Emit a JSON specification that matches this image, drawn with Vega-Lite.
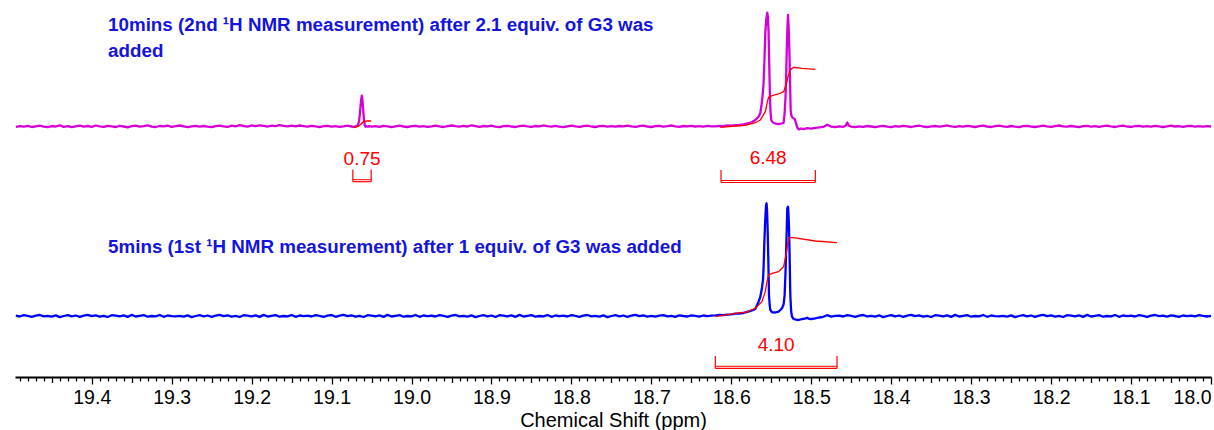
{
"$schema": "https://vega.github.io/schema/vega-lite/v6.json",
"autosize": {"type": "none"},
"width": 1196,
"height": 377,
"padding": {"left": 15, "right": 3, "top": 0, "bottom": 53},
"background": "white",
"config": {"view": {"stroke": null}},
"datasets": {
"sp": [
{"s":"m","x":19.495,"y":250.1},{"s":"m","x":19.49,"y":250.9},{"s":"m","x":19.485,"y":250.4},{"s":"m","x":19.48,"y":251.2},{"s":"m","x":19.475,"y":250.0},{"s":"m","x":19.47,"y":250.7},{"s":"m","x":19.465,"y":251.4},{"s":"m","x":19.46,"y":250.3},{"s":"m","x":19.455,"y":249.8},{"s":"m","x":19.45,"y":250.9},
{"s":"m","x":19.445,"y":250.5},{"s":"m","x":19.44,"y":251.6},{"s":"m","x":19.435,"y":250.2},{"s":"m","x":19.43,"y":250.8},{"s":"m","x":19.425,"y":249.9},{"s":"m","x":19.42,"y":250.6},{"s":"m","x":19.415,"y":251.3},{"s":"m","x":19.41,"y":250.4},{"s":"m","x":19.405,"y":251.0},{"s":"m","x":19.4,"y":250.2},
{"s":"m","x":19.395,"y":251.5},{"s":"m","x":19.39,"y":250.6},{"s":"m","x":19.385,"y":250.1},{"s":"m","x":19.38,"y":251.1},{"s":"m","x":19.375,"y":250.7},{"s":"m","x":19.37,"y":250.0},{"s":"m","x":19.365,"y":251.2},{"s":"m","x":19.36,"y":250.5},{"s":"m","x":19.355,"y":249.7},{"s":"m","x":19.35,"y":250.8},
{"s":"m","x":19.345,"y":251.4},{"s":"m","x":19.34,"y":250.3},{"s":"m","x":19.335,"y":250.9},{"s":"m","x":19.33,"y":251.6},{"s":"m","x":19.325,"y":250.4},{"s":"m","x":19.32,"y":250.0},{"s":"m","x":19.315,"y":251.0},{"s":"m","x":19.31,"y":250.6},{"s":"m","x":19.305,"y":251.3},{"s":"m","x":19.3,"y":250.2},
{"s":"m","x":19.295,"y":250.8},{"s":"m","x":19.29,"y":251.5},{"s":"m","x":19.285,"y":250.7},{"s":"m","x":19.28,"y":249.9},{"s":"m","x":19.275,"y":250.6},{"s":"m","x":19.27,"y":251.2},{"s":"m","x":19.265,"y":250.4},{"s":"m","x":19.26,"y":251.0},{"s":"m","x":19.255,"y":250.3},{"s":"m","x":19.25,"y":249.8},
{"s":"m","x":19.245,"y":250.9},{"s":"m","x":19.24,"y":251.4},{"s":"m","x":19.235,"y":250.6},{"s":"m","x":19.23,"y":250.1},{"s":"m","x":19.225,"y":251.3},{"s":"m","x":19.22,"y":250.7},{"s":"m","x":19.215,"y":251.8},{"s":"m","x":19.21,"y":251.0},{"s":"m","x":19.205,"y":250.4},{"s":"m","x":19.2,"y":251.5},
{"s":"m","x":19.195,"y":250.9},{"s":"m","x":19.19,"y":251.7},{"s":"m","x":19.185,"y":251.1},{"s":"m","x":19.18,"y":250.5},{"s":"m","x":19.175,"y":251.4},{"s":"m","x":19.17,"y":250.8},{"s":"m","x":19.165,"y":251.9},{"s":"m","x":19.16,"y":251.2},{"s":"m","x":19.155,"y":250.6},{"s":"m","x":19.15,"y":251.3},
{"s":"m","x":19.145,"y":250.7},{"s":"m","x":19.14,"y":251.5},{"s":"m","x":19.135,"y":250.9},{"s":"m","x":19.13,"y":250.3},{"s":"m","x":19.125,"y":251.1},{"s":"m","x":19.12,"y":250.6},{"s":"m","x":19.115,"y":249.9},{"s":"m","x":19.11,"y":250.8},{"s":"m","x":19.105,"y":251.2},{"s":"m","x":19.1,"y":250.4},
{"s":"m","x":19.095,"y":250.9},{"s":"m","x":19.09,"y":250.1},{"s":"m","x":19.085,"y":250.7},{"s":"m","x":19.08,"y":251.3},{"s":"m","x":19.075,"y":250.5},
{"s":"m","x":19.0715,"y":250.2},{"s":"m","x":19.069,"y":250.9},{"s":"m","x":19.067,"y":251.6},{"s":"m","x":19.0655,"y":256.5},{"s":"m","x":19.0645,"y":264},{"s":"m","x":19.0637,"y":272},{"s":"m","x":19.0629,"y":278},{"s":"m","x":19.0622,"y":281.3},{"s":"m","x":19.0614,"y":277},{"s":"m","x":19.0605,"y":268},{"s":"m","x":19.0596,"y":258},{"s":"m","x":19.0587,"y":252.5},{"s":"m","x":19.0575,"y":250.3},{"s":"m","x":19.056,"y":250.8},{"s":"m","x":19.0545,"y":250.2},{"s":"m","x":19.053,"y":250.9},{"s":"m","x":19.05,"y":250.4},
{"s":"m","x":19.045,"y":250.9},{"s":"m","x":19.04,"y":250.2},{"s":"m","x":19.035,"y":251.1},{"s":"m","x":19.03,"y":250.6},{"s":"m","x":19.025,"y":249.9},{"s":"m","x":19.02,"y":250.7},{"s":"m","x":19.015,"y":251.3},{"s":"m","x":19.01,"y":250.5},{"s":"m","x":19.005,"y":250.0},{"s":"m","x":19.0,"y":250.8},
{"s":"m","x":18.995,"y":251.2},{"s":"m","x":18.99,"y":250.4},{"s":"m","x":18.985,"y":250.9},{"s":"m","x":18.98,"y":250.1},{"s":"m","x":18.975,"y":250.7},{"s":"m","x":18.97,"y":251.4},{"s":"m","x":18.965,"y":250.6},{"s":"m","x":18.96,"y":250.0},{"s":"m","x":18.955,"y":250.9},{"s":"m","x":18.95,"y":251.5},
{"s":"m","x":18.945,"y":250.8},{"s":"m","x":18.94,"y":250.3},{"s":"m","x":18.935,"y":251.1},{"s":"m","x":18.93,"y":250.5},{"s":"m","x":18.925,"y":251.6},{"s":"m","x":18.92,"y":250.9},{"s":"m","x":18.915,"y":250.2},{"s":"m","x":18.91,"y":251.0},{"s":"m","x":18.905,"y":250.6},{"s":"m","x":18.9,"y":251.3},
{"s":"m","x":18.895,"y":250.4},{"s":"m","x":18.89,"y":249.9},{"s":"m","x":18.885,"y":250.8},{"s":"m","x":18.88,"y":251.2},{"s":"m","x":18.875,"y":250.5},{"s":"m","x":18.87,"y":250.0},{"s":"m","x":18.865,"y":250.9},{"s":"m","x":18.86,"y":251.4},{"s":"m","x":18.855,"y":250.7},{"s":"m","x":18.85,"y":250.2},
{"s":"m","x":18.845,"y":251.0},{"s":"m","x":18.84,"y":250.6},{"s":"m","x":18.835,"y":251.5},{"s":"m","x":18.83,"y":250.8},{"s":"m","x":18.825,"y":250.3},{"s":"m","x":18.82,"y":251.1},{"s":"m","x":18.815,"y":250.4},{"s":"m","x":18.81,"y":249.9},{"s":"m","x":18.805,"y":250.7},{"s":"m","x":18.8,"y":251.3},
{"s":"m","x":18.795,"y":250.6},{"s":"m","x":18.79,"y":250.1},{"s":"m","x":18.785,"y":250.9},{"s":"m","x":18.78,"y":251.4},{"s":"m","x":18.775,"y":250.5},{"s":"m","x":18.77,"y":250.0},{"s":"m","x":18.765,"y":250.8},{"s":"m","x":18.76,"y":251.2},{"s":"m","x":18.755,"y":250.4},{"s":"m","x":18.75,"y":250.9},
{"s":"m","x":18.745,"y":250.3},{"s":"m","x":18.74,"y":251.0},{"s":"m","x":18.735,"y":250.6},{"s":"m","x":18.73,"y":251.4},{"s":"m","x":18.725,"y":250.7},{"s":"m","x":18.72,"y":250.2},{"s":"m","x":18.715,"y":250.9},{"s":"m","x":18.71,"y":251.3},{"s":"m","x":18.705,"y":250.5},{"s":"m","x":18.7,"y":250.0},
{"s":"m","x":18.695,"y":250.8},{"s":"m","x":18.69,"y":251.1},{"s":"m","x":18.685,"y":250.4},{"s":"m","x":18.68,"y":250.9},{"s":"m","x":18.675,"y":251.5},{"s":"m","x":18.67,"y":250.7},{"s":"m","x":18.665,"y":250.2},{"s":"m","x":18.66,"y":251.0},{"s":"m","x":18.655,"y":250.6},{"s":"m","x":18.65,"y":251.2},
{"s":"m","x":18.645,"y":250.5},{"s":"m","x":18.64,"y":250.9},{"s":"m","x":18.635,"y":250.3},{"s":"m","x":18.63,"y":251.1},{"s":"m","x":18.625,"y":250.7},
{"s":"m","x":18.62,"y":250.6},{"s":"m","x":18.615,"y":251.2},{"s":"m","x":18.61,"y":250.9},{"s":"m","x":18.605,"y":251.5},{"s":"m","x":18.6,"y":251.3},{"s":"m","x":18.595,"y":251.8},{"s":"m","x":18.59,"y":252.0},{"s":"m","x":18.585,"y":252.6},{"s":"m","x":18.5825,"y":253.0},{"s":"m","x":18.578,"y":253.8},
{"s":"m","x":18.5741,"y":255.0},{"s":"m","x":18.57,"y":257.0},{"s":"m","x":18.5659,"y":260.3},{"s":"m","x":18.5637,"y":264.0},{"s":"m","x":18.5617,"y":275.0},{"s":"m","x":18.5604,"y":286},{"s":"m","x":18.5596,"y":294.0},{"s":"m","x":18.5585,"y":318.0},{"s":"m","x":18.5575,"y":344.0},{"s":"m","x":18.5562,"y":358.0},
{"s":"m","x":18.555,"y":364.3},{"s":"m","x":18.5542,"y":360.0},{"s":"m","x":18.5534,"y":344.0},{"s":"m","x":18.5525,"y":310.0},{"s":"m","x":18.5516,"y":277.0},{"s":"m","x":18.5508,"y":263.0},{"s":"m","x":18.55,"y":257.0},{"s":"m","x":18.5485,"y":255.0},{"s":"m","x":18.5471,"y":254.0},{"s":"m","x":18.544,"y":253.4},
{"s":"m","x":18.5412,"y":253.0},{"s":"m","x":18.538,"y":253.3},{"s":"m","x":18.5346,"y":254.0},{"s":"m","x":18.5333,"y":264.0},{"s":"m","x":18.5322,"y":280},{"s":"m","x":18.5316,"y":294.0},{"s":"m","x":18.531,"y":315.0},{"s":"m","x":18.5303,"y":337.0},{"s":"m","x":18.5297,"y":352.0},{"s":"m","x":18.5291,"y":362.0},
{"s":"m","x":18.5283,"y":350.0},{"s":"m","x":18.5274,"y":327.0},{"s":"m","x":18.5266,"y":298.0},{"s":"m","x":18.5258,"y":267.0},{"s":"m","x":18.525,"y":262.0},{"s":"m","x":18.5241,"y":260.0},{"s":"m","x":18.522,"y":258.5},{"s":"m","x":18.5208,"y":258.0},{"s":"m","x":18.519,"y":254.0},{"s":"m","x":18.5178,"y":250.0},
{"s":"m","x":18.5158,"y":247.7},{"s":"m","x":18.513,"y":248.5},{"s":"m","x":18.51,"y":247.9},{"s":"m","x":18.505,"y":248.8},{"s":"m","x":18.5,"y":248.3},{"s":"m","x":18.495,"y":249.2},{"s":"m","x":18.49,"y":249.6},
{"s":"m","x":18.485,"y":250.1},{"s":"m","x":18.48,"y":252.3},{"s":"m","x":18.475,"y":250.4},{"s":"m","x":18.47,"y":249.8},{"s":"m","x":18.465,"y":250.6},{"s":"m","x":18.46,"y":250.2},{"s":"m","x":18.457,"y":251.2},{"s":"m","x":18.455,"y":254.5},{"s":"m","x":18.453,"y":251.4},{"s":"m","x":18.45,"y":250.3},
{"s":"m","x":18.445,"y":249.9},{"s":"m","x":18.44,"y":250.7},{"s":"m","x":18.435,"y":250.2},{"s":"m","x":18.43,"y":251.0},{"s":"m","x":18.425,"y":250.5},{"s":"m","x":18.42,"y":249.8},{"s":"m","x":18.415,"y":250.6},{"s":"m","x":18.41,"y":251.1},{"s":"m","x":18.405,"y":250.3},{"s":"m","x":18.4,"y":249.9},
{"s":"m","x":18.395,"y":250.8},{"s":"m","x":18.39,"y":250.4},{"s":"m","x":18.385,"y":251.2},{"s":"m","x":18.38,"y":250.6},{"s":"m","x":18.375,"y":250.0},{"s":"m","x":18.37,"y":250.9},{"s":"m","x":18.365,"y":251.4},{"s":"m","x":18.36,"y":250.5},{"s":"m","x":18.355,"y":249.9},{"s":"m","x":18.35,"y":250.7},
{"s":"m","x":18.345,"y":251.0},{"s":"m","x":18.34,"y":250.3},{"s":"m","x":18.335,"y":250.8},{"s":"m","x":18.33,"y":251.5},{"s":"m","x":18.325,"y":250.6},{"s":"m","x":18.32,"y":250.1},{"s":"m","x":18.315,"y":250.9},{"s":"m","x":18.31,"y":250.4},{"s":"m","x":18.305,"y":251.2},{"s":"m","x":18.3,"y":250.7},
{"s":"m","x":18.295,"y":250.0},{"s":"m","x":18.29,"y":250.8},{"s":"m","x":18.285,"y":251.3},{"s":"m","x":18.28,"y":250.5},{"s":"m","x":18.275,"y":250.0},{"s":"m","x":18.27,"y":250.9},{"s":"m","x":18.265,"y":251.4},{"s":"m","x":18.26,"y":250.6},{"s":"m","x":18.255,"y":250.2},{"s":"m","x":18.25,"y":251.0},
{"s":"m","x":18.245,"y":250.4},{"s":"m","x":18.24,"y":249.9},{"s":"m","x":18.235,"y":250.8},{"s":"m","x":18.23,"y":251.2},{"s":"m","x":18.225,"y":250.5},{"s":"m","x":18.22,"y":250.0},{"s":"m","x":18.215,"y":250.7},{"s":"m","x":18.21,"y":251.3},{"s":"m","x":18.205,"y":250.6},{"s":"m","x":18.2,"y":250.1},
{"s":"m","x":18.195,"y":250.9},{"s":"m","x":18.19,"y":251.5},{"s":"m","x":18.185,"y":250.7},{"s":"m","x":18.18,"y":250.3},{"s":"m","x":18.175,"y":251.0},{"s":"m","x":18.17,"y":250.5},{"s":"m","x":18.165,"y":249.9},{"s":"m","x":18.16,"y":250.8},{"s":"m","x":18.155,"y":251.2},{"s":"m","x":18.15,"y":250.4},
{"s":"m","x":18.145,"y":250.9},{"s":"m","x":18.14,"y":250.2},{"s":"m","x":18.135,"y":250.8},{"s":"m","x":18.13,"y":251.3},{"s":"m","x":18.125,"y":250.6},{"s":"m","x":18.12,"y":250.0},{"s":"m","x":18.115,"y":250.9},{"s":"m","x":18.11,"y":251.4},{"s":"m","x":18.105,"y":250.5},{"s":"m","x":18.1,"y":250.1},
{"s":"m","x":18.095,"y":250.8},{"s":"m","x":18.09,"y":251.1},{"s":"m","x":18.085,"y":250.3},{"s":"m","x":18.08,"y":250.9},{"s":"m","x":18.075,"y":250.4},{"s":"m","x":18.07,"y":251.2},{"s":"m","x":18.065,"y":250.6},{"s":"m","x":18.06,"y":250.0},{"s":"m","x":18.055,"y":250.7},{"s":"m","x":18.05,"y":251.3},
{"s":"m","x":18.045,"y":250.5},{"s":"m","x":18.04,"y":250.9},{"s":"m","x":18.035,"y":250.2},{"s":"m","x":18.03,"y":250.8},{"s":"m","x":18.025,"y":251.2},{"s":"m","x":18.02,"y":250.4},{"s":"m","x":18.015,"y":250.9},{"s":"m","x":18.01,"y":250.3},{"s":"m","x":18.005,"y":250.8},{"s":"m","x":18.0,"y":250.5},

{"s":"b","x":19.495,"y":61.3},{"s":"b","x":19.49,"y":60.5},{"s":"b","x":19.485,"y":61.8},{"s":"b","x":19.48,"y":61.1},{"s":"b","x":19.475,"y":60.1},{"s":"b","x":19.47,"y":61.4},{"s":"b","x":19.465,"y":62.0},{"s":"b","x":19.46,"y":60.7},{"s":"b","x":19.455,"y":61.2},{"s":"b","x":19.45,"y":60.3},
{"s":"b","x":19.445,"y":61.6},{"s":"b","x":19.44,"y":59.9},{"s":"b","x":19.435,"y":61.0},{"s":"b","x":19.43,"y":61.9},{"s":"b","x":19.425,"y":60.6},{"s":"b","x":19.42,"y":61.5},{"s":"b","x":19.415,"y":60.2},{"s":"b","x":19.41,"y":61.3},{"s":"b","x":19.405,"y":62.2},{"s":"b","x":19.4,"y":60.8},
{"s":"b","x":19.395,"y":61.7},{"s":"b","x":19.39,"y":60.4},{"s":"b","x":19.385,"y":61.1},{"s":"b","x":19.38,"y":60.0},{"s":"b","x":19.375,"y":61.8},{"s":"b","x":19.37,"y":61.4},{"s":"b","x":19.365,"y":60.7},{"s":"b","x":19.36,"y":61.6},{"s":"b","x":19.355,"y":60.1},{"s":"b","x":19.35,"y":62.1},
{"s":"b","x":19.345,"y":60.5},{"s":"b","x":19.34,"y":61.2},{"s":"b","x":19.335,"y":61.9},{"s":"b","x":19.33,"y":60.3},{"s":"b","x":19.325,"y":61.0},{"s":"b","x":19.32,"y":60.6},{"s":"b","x":19.315,"y":62.0},{"s":"b","x":19.31,"y":60.2},{"s":"b","x":19.305,"y":61.5},{"s":"b","x":19.3,"y":60.9},
{"s":"b","x":19.295,"y":60.7},{"s":"b","x":19.29,"y":61.2},{"s":"b","x":19.285,"y":60.3},{"s":"b","x":19.28,"y":61.6},{"s":"b","x":19.275,"y":59.9},{"s":"b","x":19.27,"y":61.0},{"s":"b","x":19.265,"y":61.9},{"s":"b","x":19.26,"y":60.6},{"s":"b","x":19.255,"y":61.5},{"s":"b","x":19.25,"y":60.2},
{"s":"b","x":19.245,"y":61.3},{"s":"b","x":19.24,"y":62.2},{"s":"b","x":19.235,"y":60.8},{"s":"b","x":19.23,"y":61.7},{"s":"b","x":19.225,"y":60.4},{"s":"b","x":19.22,"y":61.1},{"s":"b","x":19.215,"y":60.0},{"s":"b","x":19.21,"y":61.8},{"s":"b","x":19.205,"y":61.4},{"s":"b","x":19.2,"y":60.7},
{"s":"b","x":19.195,"y":61.6},{"s":"b","x":19.19,"y":60.1},{"s":"b","x":19.185,"y":62.1},{"s":"b","x":19.18,"y":60.5},{"s":"b","x":19.175,"y":61.2},{"s":"b","x":19.17,"y":61.9},{"s":"b","x":19.165,"y":60.3},{"s":"b","x":19.16,"y":61.0},{"s":"b","x":19.155,"y":60.6},{"s":"b","x":19.15,"y":62.0},
{"s":"b","x":19.145,"y":60.2},{"s":"b","x":19.14,"y":61.5},{"s":"b","x":19.135,"y":60.9},{"s":"b","x":19.13,"y":61.3},{"s":"b","x":19.125,"y":60.5},{"s":"b","x":19.12,"y":61.8},{"s":"b","x":19.115,"y":61.1},{"s":"b","x":19.11,"y":60.1},{"s":"b","x":19.105,"y":61.4},{"s":"b","x":19.1,"y":62.0},
{"s":"b","x":19.095,"y":60.2},{"s":"b","x":19.09,"y":61.3},{"s":"b","x":19.085,"y":62.2},{"s":"b","x":19.08,"y":60.8},{"s":"b","x":19.075,"y":61.7},{"s":"b","x":19.07,"y":60.4},{"s":"b","x":19.065,"y":61.1},{"s":"b","x":19.06,"y":60.0},{"s":"b","x":19.055,"y":61.8},{"s":"b","x":19.05,"y":61.4},
{"s":"b","x":19.045,"y":60.7},{"s":"b","x":19.04,"y":61.6},{"s":"b","x":19.035,"y":60.1},{"s":"b","x":19.03,"y":62.1},{"s":"b","x":19.025,"y":60.5},{"s":"b","x":19.02,"y":61.2},{"s":"b","x":19.015,"y":61.9},{"s":"b","x":19.01,"y":60.3},{"s":"b","x":19.005,"y":61.0},{"s":"b","x":19.0,"y":60.6},
{"s":"b","x":18.995,"y":62.0},{"s":"b","x":18.99,"y":60.2},{"s":"b","x":18.985,"y":61.5},{"s":"b","x":18.98,"y":60.9},{"s":"b","x":18.975,"y":61.3},{"s":"b","x":18.97,"y":60.5},{"s":"b","x":18.965,"y":61.8},{"s":"b","x":18.96,"y":61.1},{"s":"b","x":18.955,"y":60.1},{"s":"b","x":18.95,"y":61.4},
{"s":"b","x":18.945,"y":62.0},{"s":"b","x":18.94,"y":60.7},{"s":"b","x":18.935,"y":61.2},{"s":"b","x":18.93,"y":60.3},{"s":"b","x":18.925,"y":61.6},{"s":"b","x":18.92,"y":59.9},{"s":"b","x":18.915,"y":61.0},{"s":"b","x":18.91,"y":61.9},{"s":"b","x":18.905,"y":60.6},{"s":"b","x":18.9,"y":61.5},
{"s":"b","x":18.895,"y":60.0},{"s":"b","x":18.89,"y":61.8},{"s":"b","x":18.885,"y":61.4},{"s":"b","x":18.88,"y":60.7},{"s":"b","x":18.875,"y":61.6},{"s":"b","x":18.87,"y":60.1},{"s":"b","x":18.865,"y":62.1},{"s":"b","x":18.86,"y":60.5},{"s":"b","x":18.855,"y":61.2},{"s":"b","x":18.85,"y":61.9},
{"s":"b","x":18.845,"y":60.3},{"s":"b","x":18.84,"y":61.0},{"s":"b","x":18.835,"y":60.6},{"s":"b","x":18.83,"y":62.0},{"s":"b","x":18.825,"y":60.2},{"s":"b","x":18.82,"y":61.5},{"s":"b","x":18.815,"y":60.9},{"s":"b","x":18.81,"y":61.3},{"s":"b","x":18.805,"y":60.5},{"s":"b","x":18.8,"y":61.8},
{"s":"b","x":18.795,"y":61.1},{"s":"b","x":18.79,"y":60.1},{"s":"b","x":18.785,"y":61.4},{"s":"b","x":18.78,"y":62.0},{"s":"b","x":18.775,"y":60.7},{"s":"b","x":18.77,"y":61.2},{"s":"b","x":18.765,"y":60.3},{"s":"b","x":18.76,"y":61.6},{"s":"b","x":18.755,"y":59.9},{"s":"b","x":18.75,"y":61.0},
{"s":"b","x":18.745,"y":61.9},{"s":"b","x":18.74,"y":60.6},{"s":"b","x":18.735,"y":61.5},{"s":"b","x":18.73,"y":60.2},{"s":"b","x":18.725,"y":61.3},{"s":"b","x":18.72,"y":62.2},{"s":"b","x":18.715,"y":60.8},{"s":"b","x":18.71,"y":61.7},{"s":"b","x":18.705,"y":60.4},{"s":"b","x":18.7,"y":61.1},
{"s":"b","x":18.695,"y":60.3},{"s":"b","x":18.69,"y":61.4},{"s":"b","x":18.685,"y":61.9},{"s":"b","x":18.68,"y":60.6},{"s":"b","x":18.675,"y":61.2},{"s":"b","x":18.67,"y":60.1},{"s":"b","x":18.665,"y":61.7},{"s":"b","x":18.66,"y":61.0},{"s":"b","x":18.655,"y":60.5},{"s":"b","x":18.65,"y":61.6},
{"s":"b","x":18.645,"y":61.1},{"s":"b","x":18.64,"y":60.4},{"s":"b","x":18.635,"y":61.5},{"s":"b","x":18.63,"y":60.9},{"s":"b","x":18.625,"y":61.4},
{"s":"b","x":18.62,"y":61.6},{"s":"b","x":18.615,"y":62.0},{"s":"b","x":18.61,"y":61.8},{"s":"b","x":18.605,"y":62.4},{"s":"b","x":18.6,"y":62.6},{"s":"b","x":18.595,"y":63.4},{"s":"b","x":18.59,"y":63.5},{"s":"b","x":18.585,"y":64.0},{"s":"b","x":18.5825,"y":64.7},{"s":"b","x":18.578,"y":65.6},
{"s":"b","x":18.574,"y":66.5},{"s":"b","x":18.57,"y":68.0},{"s":"b","x":18.5659,"y":75.3},{"s":"b","x":18.5638,"y":80},{"s":"b","x":18.5617,"y":88.7},{"s":"b","x":18.5603,"y":98},{"s":"b","x":18.5596,"y":110},{"s":"b","x":18.5588,"y":132},{"s":"b","x":18.5577,"y":155},{"s":"b","x":18.5566,"y":172},
{"s":"b","x":18.5559,"y":173.7},{"s":"b","x":18.5553,"y":166},{"s":"b","x":18.5546,"y":148.7},{"s":"b","x":18.5538,"y":120},{"s":"b","x":18.5529,"y":82},{"s":"b","x":18.552,"y":72},{"s":"b","x":18.5512,"y":67},{"s":"b","x":18.5491,"y":64.7},{"s":"b","x":18.545,"y":64.5},{"s":"b","x":18.5409,"y":65.3},
{"s":"b","x":18.5366,"y":68.7},{"s":"b","x":18.5345,"y":73},{"s":"b","x":18.5333,"y":82},{"s":"b","x":18.5322,"y":105},{"s":"b","x":18.5312,"y":132},{"s":"b","x":18.5305,"y":152},{"s":"b","x":18.53,"y":168.7},{"s":"b","x":18.5291,"y":170.3},{"s":"b","x":18.5285,"y":163},{"s":"b","x":18.5278,"y":149},
{"s":"b","x":18.527,"y":118},{"s":"b","x":18.5262,"y":82},{"s":"b","x":18.5252,"y":66},{"s":"b","x":18.5241,"y":60.3},{"s":"b","x":18.5221,"y":58},{"s":"b","x":18.519,"y":57.4},{"s":"b","x":18.5158,"y":57},{"s":"b","x":18.512,"y":57.8},{"s":"b","x":18.508,"y":58.3},{"s":"b","x":18.5053,"y":59.3},
{"s":"b","x":18.503,"y":58.2},{"s":"b","x":18.5,"y":58.0},{"s":"b","x":18.495,"y":58.6},{"s":"b","x":18.49,"y":59.5},{"s":"b","x":18.485,"y":60.2},{"s":"b","x":18.4803,"y":61.8},{"s":"b","x":18.475,"y":60.4},{"s":"b","x":18.47,"y":61.1},
{"s":"b","x":18.465,"y":61.3},{"s":"b","x":18.46,"y":60.5},{"s":"b","x":18.455,"y":61.8},{"s":"b","x":18.45,"y":61.1},{"s":"b","x":18.445,"y":60.1},{"s":"b","x":18.44,"y":61.4},{"s":"b","x":18.435,"y":62.0},{"s":"b","x":18.43,"y":60.7},{"s":"b","x":18.425,"y":61.2},{"s":"b","x":18.42,"y":60.3},
{"s":"b","x":18.415,"y":61.6},{"s":"b","x":18.41,"y":59.9},{"s":"b","x":18.405,"y":61.0},{"s":"b","x":18.4,"y":61.9},{"s":"b","x":18.395,"y":60.6},{"s":"b","x":18.39,"y":61.5},{"s":"b","x":18.385,"y":60.2},{"s":"b","x":18.38,"y":61.3},{"s":"b","x":18.375,"y":62.2},{"s":"b","x":18.37,"y":60.8},
{"s":"b","x":18.365,"y":61.7},{"s":"b","x":18.36,"y":60.4},{"s":"b","x":18.355,"y":61.1},{"s":"b","x":18.35,"y":60.0},{"s":"b","x":18.345,"y":61.8},{"s":"b","x":18.34,"y":61.4},{"s":"b","x":18.335,"y":60.7},{"s":"b","x":18.33,"y":61.6},{"s":"b","x":18.325,"y":60.1},{"s":"b","x":18.32,"y":62.1},
{"s":"b","x":18.315,"y":60.5},{"s":"b","x":18.31,"y":61.2},{"s":"b","x":18.305,"y":61.9},{"s":"b","x":18.3,"y":60.3},{"s":"b","x":18.295,"y":61.0},{"s":"b","x":18.29,"y":60.6},{"s":"b","x":18.285,"y":62.0},{"s":"b","x":18.28,"y":60.2},{"s":"b","x":18.275,"y":61.5},{"s":"b","x":18.27,"y":60.9},
{"s":"b","x":18.265,"y":60.7},{"s":"b","x":18.26,"y":61.2},{"s":"b","x":18.255,"y":60.3},{"s":"b","x":18.25,"y":61.6},{"s":"b","x":18.245,"y":59.9},{"s":"b","x":18.24,"y":61.0},{"s":"b","x":18.235,"y":61.9},{"s":"b","x":18.23,"y":60.6},{"s":"b","x":18.225,"y":61.5},{"s":"b","x":18.22,"y":60.2},
{"s":"b","x":18.215,"y":61.3},{"s":"b","x":18.21,"y":62.2},{"s":"b","x":18.205,"y":60.8},{"s":"b","x":18.2,"y":61.7},{"s":"b","x":18.195,"y":60.4},{"s":"b","x":18.19,"y":61.1},{"s":"b","x":18.185,"y":60.0},{"s":"b","x":18.18,"y":61.8},{"s":"b","x":18.175,"y":61.4},{"s":"b","x":18.17,"y":60.7},
{"s":"b","x":18.165,"y":61.6},{"s":"b","x":18.16,"y":60.1},{"s":"b","x":18.155,"y":62.1},{"s":"b","x":18.15,"y":60.5},{"s":"b","x":18.145,"y":61.2},{"s":"b","x":18.14,"y":61.9},{"s":"b","x":18.135,"y":60.3},{"s":"b","x":18.13,"y":61.0},{"s":"b","x":18.125,"y":60.6},{"s":"b","x":18.12,"y":62.0},
{"s":"b","x":18.115,"y":60.2},{"s":"b","x":18.11,"y":61.5},{"s":"b","x":18.105,"y":60.9},{"s":"b","x":18.1,"y":61.3},{"s":"b","x":18.095,"y":60.5},{"s":"b","x":18.09,"y":61.8},{"s":"b","x":18.085,"y":61.1},{"s":"b","x":18.08,"y":60.1},{"s":"b","x":18.075,"y":61.4},{"s":"b","x":18.07,"y":62.0},
{"s":"b","x":18.065,"y":60.8},{"s":"b","x":18.06,"y":61.3},{"s":"b","x":18.055,"y":60.4},{"s":"b","x":18.05,"y":61.7},{"s":"b","x":18.045,"y":61.0},{"s":"b","x":18.04,"y":60.2},{"s":"b","x":18.035,"y":61.5},{"s":"b","x":18.03,"y":60.9},{"s":"b","x":18.025,"y":61.4},{"s":"b","x":18.02,"y":60.6},
{"s":"b","x":18.015,"y":61.8},{"s":"b","x":18.01,"y":61.1},{"s":"b","x":18.005,"y":60.5},{"s":"b","x":18.0,"y":61.2}
],
"ig": [
{"s":"im","x":18.6138,"y":249.7},{"s":"im","x":18.595,"y":251.0},{"s":"im","x":18.5825,"y":251.7},{"s":"im","x":18.57,"y":254.3},{"s":"im","x":18.5637,"y":257.0},{"s":"im","x":18.5575,"y":265.3},{"s":"im","x":18.5563,"y":269.5},{"s":"im","x":18.5554,"y":273.7},{"s":"im","x":18.5534,"y":279.7},{"s":"im","x":18.5491,"y":281.3},{"s":"im","x":18.5409,"y":283.0},{"s":"im","x":18.5346,"y":285.3},{"s":"im","x":18.5316,"y":292.0},{"s":"im","x":18.5291,"y":300.3},{"s":"im","x":18.5262,"y":307.0},{"s":"im","x":18.5221,"y":309.7},{"s":"im","x":18.5116,"y":308.7},{"s":"im","x":18.4949,"y":307.7},
{"s":"i0","x":19.0727,"y":249.3},{"s":"i0","x":19.0668,"y":250.5},{"s":"i0","x":19.0637,"y":252.5},{"s":"i0","x":19.0602,"y":255.3},{"s":"i0","x":19.0555,"y":256.0},{"s":"i0","x":19.0505,"y":256.0},
{"s":"ib","x":18.62,"y":60.3},{"s":"ib","x":18.595,"y":63.7},{"s":"ib","x":18.5825,"y":64.7},{"s":"ib","x":18.57,"y":68.7},{"s":"ib","x":18.5617,"y":75.3},{"s":"ib","x":18.5575,"y":85.3},{"s":"ib","x":18.5554,"y":95.3},{"s":"ib","x":18.5534,"y":102.0},{"s":"ib","x":18.5491,"y":103.7},{"s":"ib","x":18.5409,"y":105.3},{"s":"ib","x":18.5346,"y":110.3},{"s":"ib","x":18.5316,"y":122.0},{"s":"ib","x":18.5291,"y":135.3},{"s":"ib","x":18.5275,"y":139.3},{"s":"ib","x":18.5221,"y":139.3},{"s":"ib","x":18.4949,"y":136.0},{"s":"ib","x":18.4678,"y":134.3}
],
"br": [
{"x":19.0734,"x2":19.0505,"top":207.5,"bot":195.3,"lab":"0.75","lx":19.0619,"ly":218},
{"x":18.6129,"x2":18.4949,"top":207,"bot":194.5,"lab":"6.48","lx":18.5539,"ly":218.7},
{"x":18.62,"x2":18.4678,"top":21,"bot":8.7,"lab":"4.10","lx":18.5439,"ly":32}
],
"tx": [
{"x":19.3796,"y":346.3,"t":"10mins (2nd ¹H NMR measurement) after 2.1 equiv. of G3 was"},
{"x":19.3796,"y":320.3,"t":"added"},
{"x":19.3796,"y":123.7,"t":"5mins (1st ¹H NMR measurement) after 1 equiv. of G3 was added"}
]
},
"layer": [
{
"data": {"name": "sp"},
"mark": {"type": "line", "strokeWidth": 2.3, "strokeJoin": "round"},
"encoding": {
"x": {"field": "x", "type": "quantitative",
 "scale": {"domain": [18.0, 19.496], "reverse": true, "nice": false, "zero": false},
 "axis": {"title": "Chemical Shift (ppm)", "orient": "bottom", "grid": false,
  "tickCount": 150, "labelOverlap": false, "labelFlush": true,
  "labelExpr": "abs(datum.value*10 - round(datum.value*10)) < 0.001 ? format(datum.value, '.1f') : ''",
  "tickSize": {"condition": [{"test": "abs(datum.value*10 - round(datum.value*10)) < 0.001", "value": 7}, {"test": "abs(datum.value*20 - round(datum.value*20)) < 0.001", "value": 5.5}], "value": 4},
  "tickWidth": 1.3, "tickColor": "black", "domainColor": "black", "domainWidth": 2,
  "labelFont": "Liberation Sans", "labelFontSize": 19.5, "labelColor": "black", "labelPadding": 4,
  "titleFont": "Liberation Sans", "titleFontSize": 20, "titleFontWeight": "normal", "titleColor": "black", "titlePadding": 4}},
"y": {"field": "y", "type": "quantitative", "scale": {"domain": [0, 377], "nice": false, "zero": false}, "axis": null},
"color": {"field": "s", "type": "nominal", "scale": {"domain": ["m", "b"], "range": ["#d600d6", "#0000ff"]}, "legend": null}
}
},
{
"data": {"name": "ig"},
"mark": {"type": "line", "strokeWidth": 1.3, "color": "#ff0000"},
"encoding": {
"x": {"field": "x", "type": "quantitative", "scale": {"domain": [18.0, 19.496], "reverse": true, "nice": false, "zero": false}},
"y": {"field": "y", "type": "quantitative", "scale": {"domain": [0, 377], "nice": false, "zero": false}, "axis": null},
"detail": {"field": "s", "type": "nominal"}
}
},
{
"data": {"name": "br"},
"mark": {"type": "rule", "color": "#ff0000", "strokeWidth": 1.2},
"encoding": {
"x": {"field": "x", "type": "quantitative", "scale": {"domain": [18.0, 19.496], "reverse": true, "nice": false, "zero": false}},
"y": {"field": "top", "type": "quantitative", "scale": {"domain": [0, 377], "nice": false, "zero": false}, "axis": null},
"y2": {"field": "bot"}
}
},
{
"data": {"name": "br"},
"mark": {"type": "rule", "color": "#ff0000", "strokeWidth": 1.2},
"encoding": {
"x": {"field": "x2", "type": "quantitative", "scale": {"domain": [18.0, 19.496], "reverse": true, "nice": false, "zero": false}},
"y": {"field": "top", "type": "quantitative", "scale": {"domain": [0, 377], "nice": false, "zero": false}, "axis": null},
"y2": {"field": "bot"}
}
},
{
"data": {"name": "br"},
"mark": {"type": "rule", "color": "#ff0000", "strokeWidth": 1.2},
"encoding": {
"x": {"field": "x", "type": "quantitative", "scale": {"domain": [18.0, 19.496], "reverse": true, "nice": false, "zero": false}},
"x2": {"field": "x2"},
"y": {"field": "bot", "type": "quantitative", "scale": {"domain": [0, 377], "nice": false, "zero": false}, "axis": null}
}
},
{
"data": {"name": "br"},
"mark": {"type": "rule", "color": "#ff0000", "strokeWidth": 1, "yOffset": -2},
"encoding": {
"x": {"field": "x", "type": "quantitative", "scale": {"domain": [18.0, 19.496], "reverse": true, "nice": false, "zero": false}},
"x2": {"field": "x2"},
"y": {"field": "bot", "type": "quantitative", "scale": {"domain": [0, 377], "nice": false, "zero": false}, "axis": null}
}
},
{
"data": {"name": "br"},
"mark": {"type": "text", "color": "#ff0000", "font": "Liberation Sans", "fontSize": 19, "align": "center", "baseline": "middle"},
"encoding": {
"x": {"field": "lx", "type": "quantitative", "scale": {"domain": [18.0, 19.496], "reverse": true, "nice": false, "zero": false}},
"y": {"field": "ly", "type": "quantitative", "scale": {"domain": [0, 377], "nice": false, "zero": false}, "axis": null},
"text": {"field": "lab", "type": "nominal"}
}
},
{
"data": {"name": "tx"},
"mark": {"type": "text", "color": "#1414dc", "font": "Liberation Sans", "fontWeight": "bold", "fontSize": 18.8, "align": "left", "baseline": "alphabetic"},
"encoding": {
"x": {"field": "x", "type": "quantitative", "scale": {"domain": [18.0, 19.496], "reverse": true, "nice": false, "zero": false}},
"y": {"field": "y", "type": "quantitative", "scale": {"domain": [0, 377], "nice": false, "zero": false}, "axis": null},
"text": {"field": "t", "type": "nominal"}
}
}
]
}
